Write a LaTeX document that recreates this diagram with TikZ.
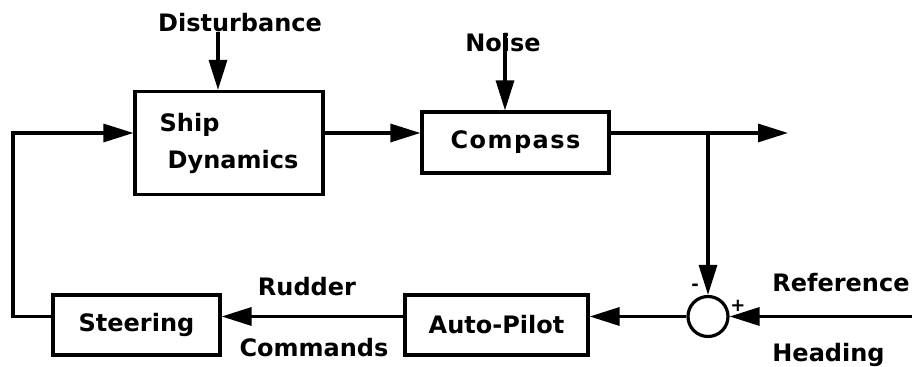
\documentclass[tikz,border=0pt]{standalone}
\usepackage{fontspec}
\setmainfont{DejaVu Sans}
\usepackage{tikz}
\usetikzlibrary{
  arrows.meta,
  shapes,
  positioning,
  calc
}
\tikzset{
  shnode/.style={
    draw, line width=1.6pt, inner sep=2pt,
    font=\fontsize{12}{18.5}\selectfont\bfseries, align=left
  },
  shblock/.style={shnode, minimum height=30pt},
  shsum/.style={draw, circle, line width=1.6pt, minimum size=20pt, inner sep=0pt},
  shsig/.style={-{Triangle[length=15pt, width=9pt]}, line width=1.6pt},
  shlbl/.style={font=\fontsize{12}{14}\selectfont\bfseries, inner sep=0pt},
  shsign/.style={font=\fontsize{9}{9}\selectfont\bfseries, inner sep=0pt}
}

\begin{document}
\begin{tikzpicture}[x=0.5pt, y=-0.5pt]
  \useasboundingbox (0,0) rectangle (912,367);
  % signal levels
  \coordinate (fwd) at (0,133);
  \coordinate (back) at (0,316.5);
  \coordinate (corner) at (13,133);
  \coordinate (out) at (788,133);
  \coordinate (ref) at (912,316.5);
  % blocks
  \node[shblock, minimum width=94pt, minimum height=51.5pt] (ship) at (229,143) {Ship\\\hspace{4pt}Dynamics};
  \node[shblock, minimum width=93.5pt, minimum height=30.5pt] (compass) at (515.5,142.5) {\addfontfeature{LetterSpace=6}Compass};
  \node[shblock, minimum width=83.5pt] (steer) at (136.5,325) {Steering};
  \node[shblock, minimum width=91.5pt] (pilot) at (496.5,325) {Auto-Pilot};
  \node[shsum] (sum) at (708,316.5) {};
  % labels
  \node[shlbl, anchor=base] (dist) at (240,32) {Disturbance};
  \node[shlbl, anchor=base] (noise) at (503,52) {Noise};
  \node[shlbl, anchor=base] (rudder) at (307,296) {Rudder};
  \node[shlbl, anchor=base] (cmds) at (314,357) {Commands};
  \node[shlbl, anchor=base west] (refl) at (772,292) {Reference};
  \node[shlbl, anchor=base west] (head) at (772,362) {Heading};
  \node[shsign] (minus) at (695,287) {-};
  \node[shsign] (plus) at (738,306) {+};
  % inputs
  \coordinate (din) at ([xshift=-5.5pt]ship.north);
  \coordinate (nin) at ([xshift=-5.25pt]compass.north);
  \draw[shsig] (dist.base -| din) -- (din);
  \draw[shsig] (noise.north -| nin) -- (nin);
  % forward path
  \draw[shsig] (ship.east |- fwd) -- (compass.west |- fwd);
  \draw[shsig] (compass.east |- fwd) -- (out);
  \draw[shsig] (sum.north |- fwd) -- (sum.north);
  % feedback path
  \draw[shsig] (ref) -- (sum.east);
  \draw[shsig] (sum.west) -- (pilot.east |- back);
  \draw[shsig] (pilot.west |- back) -- (steer.east |- back);
  \draw[shsig] (steer.west |- back) -| (corner) -- (ship.west |- fwd);
\end{tikzpicture}
\end{document}
